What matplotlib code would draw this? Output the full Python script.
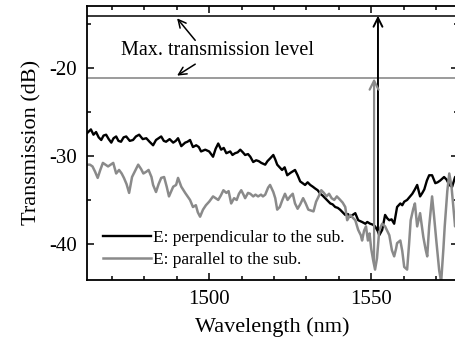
import matplotlib
matplotlib.use("Agg")
import matplotlib.pyplot as plt
from matplotlib.ticker import MultipleLocator

plt.rcParams['font.family'] = ['Liberation Serif', 'DejaVu Serif']
plt.rcParams['axes.unicode_minus'] = False

# spectra: wavelength (nm), transmission (dB)
wl_perp = [1462.4, 1463.5, 1464.3, 1465.1, 1465.9, 1466.7, 1467.4, 1468.2, 1469.0, 1469.8,
           1470.5, 1471.3, 1472.0, 1472.8, 1473.6, 1474.4, 1475.5, 1476.5, 1477.4, 1478.4,
           1479.5, 1480.6, 1481.6, 1482.7, 1483.6, 1484.4, 1485.2, 1486.0, 1486.7, 1487.8,
           1488.9, 1489.7, 1490.4, 1491.4, 1492.6, 1493.3, 1494.1, 1495.0, 1496.0, 1496.8,
           1497.5, 1498.8, 1500.0, 1501.2, 1502.0, 1502.8, 1503.7, 1504.5, 1505.3, 1506.5,
           1507.2, 1508.0, 1508.8, 1509.6, 1510.4, 1511.1, 1512.0, 1512.7, 1513.6, 1514.5,
           1515.3, 1516.1, 1517.3, 1518.0, 1518.8, 1519.8, 1520.4, 1521.0, 1522.5, 1523.3,
           1524.1, 1525.2, 1526.5, 1527.3, 1528.1, 1529.6, 1530.4, 1531.2, 1532.0, 1532.7,
           1533.5, 1534.3, 1535.0, 1535.8, 1536.6, 1537.4, 1538.1, 1538.9, 1539.7, 1540.4,
           1541.2, 1542.0, 1542.8, 1543.5, 1544.3, 1545.1, 1546.0, 1547.2, 1548.2, 1548.8,
           1549.7, 1550.5, 1551.2, 1552.0, 1552.5, 1553.4, 1554.3, 1555.0, 1555.6, 1556.3,
           1557.1, 1558.0, 1559.0, 1559.6, 1560.2, 1561.1, 1562.0, 1562.7, 1563.5, 1564.2,
           1565.1, 1565.8, 1566.4, 1567.2, 1567.9, 1568.8, 1569.8, 1570.5, 1571.3, 1572.5,
           1573.3, 1574.1, 1575.0, 1575.9, 1576.8]
db_perp = [-27.4, -27.0, -27.6, -27.3, -27.9, -28.2, -27.7, -27.6, -28.1, -28.5,
           -28.0, -27.8, -28.3, -28.4, -27.9, -27.8, -28.3, -28.2, -27.8, -27.6,
           -28.1, -28.0, -28.4, -28.8, -28.2, -28.0, -27.8, -28.3, -28.4, -28.1,
           -28.5, -28.3, -28.0, -28.9, -28.5, -28.4, -28.2, -29.0, -28.8, -29.0,
           -29.5, -29.3, -29.5, -30.1, -29.2, -28.6, -29.3, -29.1, -29.7, -29.5,
           -29.9, -29.7, -29.6, -29.3, -29.6, -29.9, -29.8, -30.1, -30.7, -30.5,
           -30.6, -30.8, -31.0, -30.6, -30.3, -29.9, -30.4, -31.0, -31.6, -31.3,
           -32.2, -31.9, -31.6, -32.2, -32.9, -33.3, -33.0, -33.3, -33.5, -33.7,
           -33.9, -34.3, -34.5, -34.8, -35.1, -35.4, -35.5, -35.8, -35.9, -36.1,
           -36.4, -36.7, -36.6, -36.9, -36.7, -36.5, -37.3, -37.5, -37.7, -37.5,
           -37.7, -37.8, -38.0, -38.5, -39.0, -38.4, -36.7, -37.1, -37.3, -37.2,
           -37.7, -35.8, -35.4, -35.6, -35.2, -35.0, -34.6, -34.3, -33.8, -33.3,
           -34.6, -34.2, -33.8, -32.8, -32.2, -32.2, -33.1, -33.0, -32.8, -32.4,
           -32.7, -33.3, -33.5, -32.4, -32.2]

wl_par = [1462.4, 1463.2, 1464.0, 1464.8, 1465.6, 1466.4, 1467.2, 1468.0, 1468.8, 1469.6,
          1470.4, 1471.3, 1472.2, 1473.0, 1473.7, 1474.5, 1475.3, 1476.2, 1477.0, 1478.1,
          1479.0, 1479.7, 1480.6, 1481.3, 1482.2, 1482.7, 1483.6, 1484.4, 1485.2, 1486.1,
          1486.9, 1487.6, 1488.9, 1489.8, 1490.4, 1491.4, 1492.6, 1494.1, 1495.0, 1495.9,
          1496.5, 1497.2, 1498.1, 1499.0, 1500.0, 1501.2, 1502.0, 1502.8, 1503.6, 1504.4,
          1505.3, 1506.0, 1506.8, 1507.7, 1508.5, 1509.2, 1509.9, 1510.6, 1511.1, 1512.0,
          1512.7, 1513.6, 1514.3, 1515.1, 1516.0, 1516.6, 1517.3, 1518.2, 1518.8, 1519.8,
          1520.4, 1521.0, 1521.8, 1522.6, 1523.4, 1524.2, 1525.0, 1525.8, 1526.5, 1527.3,
          1528.1, 1529.0, 1529.8, 1530.6, 1531.4, 1532.2, 1533.0, 1533.8, 1534.6, 1535.4,
          1536.2, 1537.0, 1537.8, 1538.6, 1539.4, 1540.2, 1541.2, 1542.0, 1542.6, 1543.5,
          1544.3, 1545.1, 1546.0, 1546.8, 1547.2, 1547.8, 1548.4, 1549.0, 1549.5, 1550.0,
          1550.6, 1551.2, 1551.8, 1552.5, 1553.4, 1554.3, 1555.1, 1555.6, 1556.4, 1557.1,
          1557.7, 1558.0, 1559.0, 1559.6, 1560.2, 1561.1, 1561.7, 1562.2, 1563.0, 1563.5,
          1564.2, 1565.1, 1566.1, 1566.8, 1567.3, 1567.9, 1568.8, 1569.4, 1570.1, 1571.0,
          1571.6, 1572.3, 1572.7, 1573.5, 1574.1, 1574.8, 1575.0, 1575.9, 1576.6]
db_par = [-31.0, -31.0, -31.2, -31.8, -32.5, -31.6, -30.8, -31.0, -31.2, -31.0,
          -30.8, -32.0, -31.6, -32.0, -32.5, -33.2, -34.2, -32.4, -31.8, -31.0,
          -31.5, -32.0, -31.8, -31.6, -32.4, -33.3, -34.1, -33.2, -32.5, -32.4,
          -33.5, -34.6, -33.5, -33.3, -32.5, -33.5, -34.2, -35.0, -35.8, -35.6,
          -36.4, -36.9, -36.1, -35.6, -35.2, -34.6, -34.8, -35.0, -34.5, -33.9,
          -34.2, -34.0, -35.4, -34.8, -35.0, -34.3, -33.9, -34.4, -34.8, -34.2,
          -34.3, -34.6, -34.4, -34.6, -34.4, -34.6, -34.4, -33.6, -33.3, -34.1,
          -34.8, -36.1, -35.8, -35.0, -34.3, -35.0, -34.6, -34.3, -35.4, -36.0,
          -35.5, -34.8, -35.4, -36.1, -36.2, -36.3, -35.2, -34.6, -33.9, -34.2,
          -34.6, -34.3, -34.8, -35.0, -34.6, -34.9, -35.3, -35.8, -37.3, -36.7,
          -37.0, -37.3, -38.4, -39.0, -39.6, -38.5, -38.0, -39.6, -38.8, -40.5,
          -41.8, -42.9, -41.6, -38.4, -37.7, -38.0, -38.6, -39.0, -40.7, -41.4,
          -40.5, -39.9, -39.6, -40.8, -42.6, -42.9, -40.0, -37.3, -36.0, -35.4,
          -38.0, -36.5, -39.2, -40.6, -41.4, -38.0, -34.6, -36.8, -39.6, -43.0,
          -44.3, -40.5, -38.0, -34.0, -32.0, -33.5, -34.3, -38.0, -36.0]

# maximum transmission levels and the resonance dip markers
max_perp = -14.1
max_par = -21.2
dip_perp = (1552.1, -38.4)
dip_par = (1550.9, -42.2)

gray = '#8a8a8a'

fig = plt.figure(figsize=(4.56, 3.46), dpi=100)
ax = fig.add_axes([87/456, 66/346, 371/456, 274.3/346])

ax.plot(wl_perp, db_perp, color='black', lw=1.7, label='E: perpendicular to the sub.')
ax.plot(wl_par, db_par, color=gray, lw=1.8, label='E: parallel to the sub.')

ax.axhline(max_perp, color='black', lw=1.1)
ax.axhline(max_par, color=gray, lw=1.2)

# vertical arrows from the dip up to each max level
ax.annotate('', xy=(dip_perp[0], max_perp), xytext=dip_perp,
            arrowprops=dict(arrowstyle='->', color='black', lw=1.4,
                            mutation_scale=16, shrinkA=0, shrinkB=0))
ax.annotate('', xy=(dip_par[0], max_par), xytext=dip_par,
            arrowprops=dict(arrowstyle='->', color=gray, lw=1.6,
                            mutation_scale=16, shrinkA=0, shrinkB=0))

ax.text(1502.5, -18.0, 'Max. transmission level', fontsize=14.5,
        ha='center', va='center')
ax.annotate('', xy=(1490.1, -14.4), xytext=(1495.7, -16.9),
            arrowprops=dict(arrowstyle='->', color='black', lw=1.1,
                            mutation_scale=14, shrinkA=0, shrinkB=0))
ax.annotate('', xy=(1490.1, -20.9), xytext=(1495.7, -19.6),
            arrowprops=dict(arrowstyle='->', color='black', lw=1.1,
                            mutation_scale=14, shrinkA=0, shrinkB=0))

ax.set_xlim(1462.3, 1576.8)
ax.set_ylim(-44.08, -12.97)
ax.xaxis.set_major_locator(MultipleLocator(50))
ax.xaxis.set_minor_locator(MultipleLocator(10))
ax.yaxis.set_major_locator(MultipleLocator(10))
ax.yaxis.set_minor_locator(MultipleLocator(5))
ax.tick_params(which='both', direction='in', top=True, right=True,
               labelsize=15, width=1.1)
ax.tick_params(which='major', length=5, pad=7)
ax.tick_params(which='minor', length=3)
for s in ax.spines.values():
    s.set_linewidth(1.3)

ax.set_xlabel('Wavelength (nm)', fontsize=16, labelpad=6)
ax.set_ylabel('Transmission (dB)', fontsize=16, labelpad=6)

ax.legend(loc='lower left', bbox_to_anchor=(0.01, 0.0), frameon=False,
          fontsize=12.5, handlelength=2.8, handletextpad=0.1,
          labelspacing=0.3, borderaxespad=0.3)

fig.savefig('out.png', dpi=100)
